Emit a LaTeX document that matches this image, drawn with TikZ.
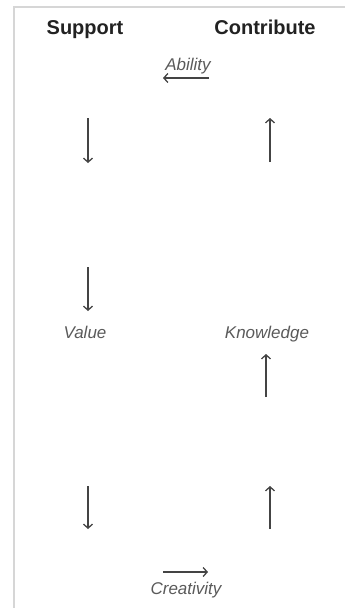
\documentclass[tikz,border=0pt]{standalone}
\usepackage{fontspec}
\setmainfont{Liberation Sans}
\usepackage{xcolor}
\usepackage{tikz}
\usetikzlibrary{calc,arrows.meta}
\definecolor{frame}{HTML}{D6D6D6}
\definecolor{ink}{HTML}{222222}
\definecolor{muted}{HTML}{5A5A5A}
\definecolor{arrowc}{HTML}{444444}

\begin{document}
\begin{tikzpicture}[x=1pt,y=-1pt,
  head/.style={font=\fontsize{20}{24}\selectfont\bfseries,text=ink,anchor=base},
  word/.style={font=\fontsize{17}{20}\selectfont\itshape,text=muted,anchor=base},
  flow/.style={draw=arrowc,line width=1.1pt,-{Straight Barb[length=4pt,width=9pt,line width=1.3pt]}}]
\useasboundingbox (0,0) rectangle (345,608);
\draw[frame, line width=1.2pt] (14,608) -- (14,7) -- (345,7);
\node[head] (sup) at (85,34) {Support};
\node[head] (con) at (265,34) {Contribute};
\node[word] (abil) at (188,70) {Ability};
\node[word] (val) at (85,338) {Value};
\node[word] (know) at (267,338) {Knowledge};
\node[word] (crea) at (186,594) {Creativity};
% arrows
\coordinate (a1) at (209,78);  \coordinate (a2) at (163,78);
\coordinate (c1) at (163,572); \coordinate (c2) at (208,572);
\draw[flow] (a1) -- (a2);
\draw[flow] (c1) -- (c2);
\draw[flow] (88,118) -- (88,163);
\draw[flow] (88,267) -- (88,311);
\draw[flow] (88,486) -- (88,529);
\draw[flow] (270,162) -- (270,118);
\draw[flow] (266,397) -- (266,354);
\draw[flow] (270,529) -- (270,486);
\end{tikzpicture}
\end{document}
